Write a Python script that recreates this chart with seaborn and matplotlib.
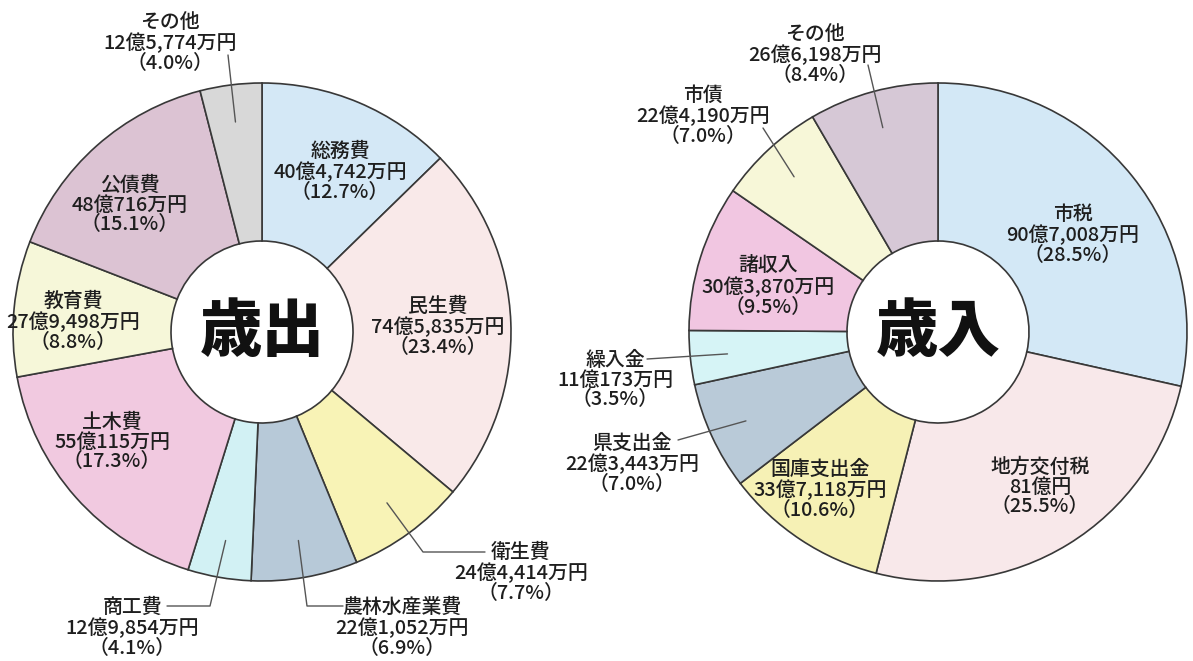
import numpy as np
import matplotlib
matplotlib.use("Agg")
import matplotlib.pyplot as plt
import seaborn as sns

# =============================================================================
# Data
# =============================================================================

exp_names = ["総務費", "民生費", "衛生費", "農林水産業費", "商工費",
             "土木費", "教育費", "公債費", "その他"]
exp_amounts = ["40億4,742万円", "74億5,835万円", "24億4,414万円", "22億1,052万円",
               "12億9,854万円", "55億115万円", "27億9,498万円", "48億716万円",
               "12億5,774万円"]
exp_pct = [12.7, 23.4, 7.7, 6.9, 4.1, 17.3, 8.8, 15.1, 4.0]

rev_names = ["市税", "地方交付税", "国庫支出金", "県支出金", "繰入金",
             "諸収入", "市債", "その他"]
rev_amounts = ["90億7,008万円", "81億円", "33億7,118万円", "22億3,443万円",
               "11億173万円", "30億3,870万円", "22億4,190万円", "26億6,198万円"]
rev_pct = [28.5, 25.5, 10.6, 7.0, 3.5, 9.5, 7.0, 8.4]

# =============================================================================
# Style / layout (pixel units, y measured from the top)
# =============================================================================

W, H = 1193, 661
R_OUT, R_IN = 249, 91

exp_colors = ["#d4e8f6", "#f9e9e9", "#f8f3b6", "#b7c9d8", "#d2f1f4",
              "#f1c9e0", "#f6f7d9", "#dcc3d3", "#d8d8d8"]
rev_colors = ["#d3e8f6", "#f8e8ea", "#f6f1b5", "#b9cad8", "#d6f4f6",
              "#f1c6e1", "#f7f7d8", "#d6c8d6"]

# label centre (middle line) and leader: None, ("line", end) or ("elbow", corner, end)
exp_layout = [
    ((340, 172), None),
    ((438, 327), None),
    ((521, 573), ("elbow", (423, 552), (485, 552))),
    ((402, 628), ("elbow", (307, 606), (343, 606))),
    ((132, 628), ("elbow", (210, 606), (167, 606))),
    ((112, 442), None),
    ((73, 322), None),
    ((130, 205), None),
    ((170, 43), ("line", (228, 55))),
]
rev_layout = [
    ((1073, 235), None),
    ((1040, 487), None),
    ((820, 490), None),
    ((632, 464), ("line", (678, 440))),
    ((615, 380), ("line", (647, 359))),
    ((768, 287), None),
    ((703, 116), ("line", (763, 128))),
    ((815, 55), ("line", (868, 65))),
]

sns.set_theme(style="white")
plt.rcParams["font.family"] = ["Noto Sans CJK JP", "DejaVu Sans"]

TEXT_COLOR = "#1e1e1e"
EDGE_COLOR = "#383838"
LEAD_COLOR = "#555555"


def fy(y):
    return H - y


def draw_donut(ax, center, names, amounts, pct, colors, layout, title):
    cx, cy = center
    wedges, _ = ax.pie(
        pct,
        colors=colors,
        startangle=90,
        counterclock=False,
        radius=R_OUT,
        center=(cx, fy(cy)),
        wedgeprops=dict(width=R_OUT - R_IN, edgecolor=EDGE_COLOR, linewidth=1.2),
    )

    for w, name, amt, p, (pos, lead) in zip(wedges, names, amounts, pct, layout):
        ax.text(pos[0], fy(pos[1]), f"{name}\n{amt}\n（{p:.1f}%）",
                ha="center", va="center", fontsize=14.3, color=TEXT_COLOR,
                fontweight="medium", linespacing=1.05)
        if lead is None:
            continue
        mid = np.deg2rad((w.theta1 + w.theta2) / 2)
        x0 = cx + 0.85 * R_OUT * np.cos(mid)
        y0 = fy(cy) + 0.85 * R_OUT * np.sin(mid)
        pts = [(x0, y0)] + [(p_[0], fy(p_[1])) for p_ in lead[1:]]
        xs, ys = zip(*pts)
        ax.plot(xs, ys, color=LEAD_COLOR, linewidth=1.0, zorder=3)

    ax.text(cx, fy(cy), title, ha="center", va="center", fontsize=45,
            fontweight="black", color="#111111")


fig = plt.figure(figsize=(W / 100, H / 100), dpi=100)
ax = fig.add_axes([0, 0, 1, 1])

draw_donut(ax, (262, 332), exp_names, exp_amounts, exp_pct, exp_colors,
           exp_layout, "歳出")
draw_donut(ax, (938, 332), rev_names, rev_amounts, rev_pct, rev_colors,
           rev_layout, "歳入")

ax.set_xlim(0, W)
ax.set_ylim(0, H)
ax.set_aspect("equal")
ax.axis("off")

fig.savefig("out.png", dpi=100, facecolor="white")
